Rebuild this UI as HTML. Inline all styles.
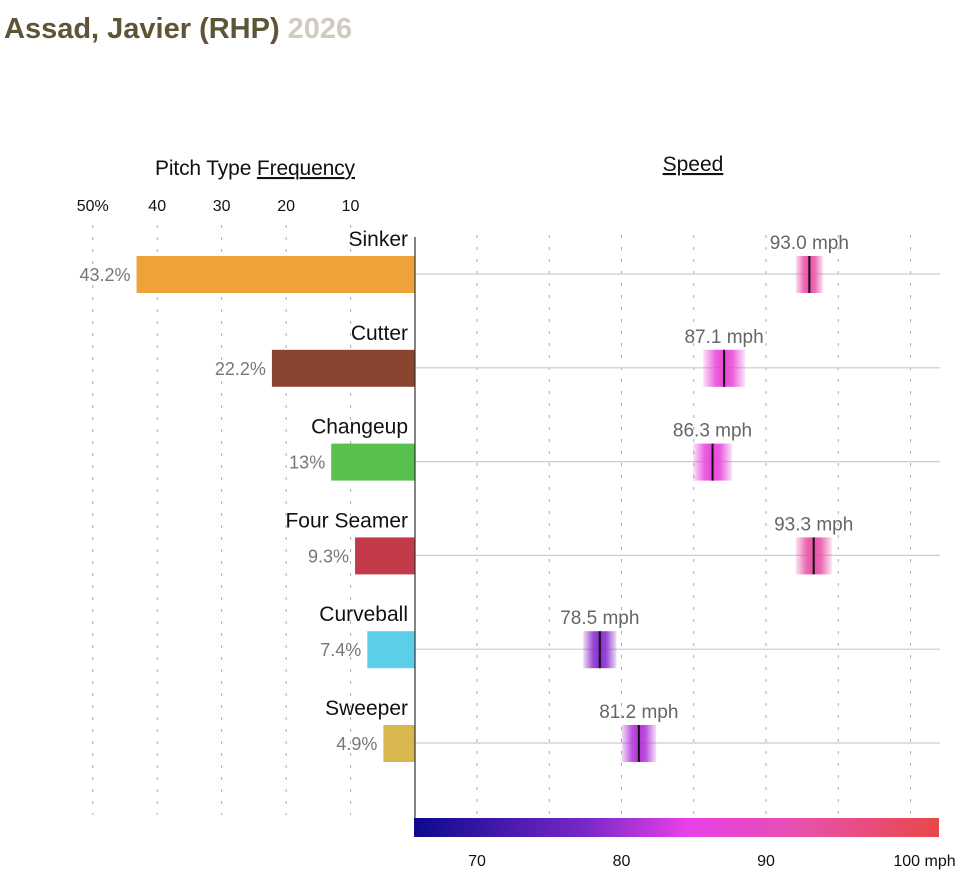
<!DOCTYPE html>
<html><head><meta charset="utf-8"><style>
body{margin:0;background:#fff;width:960px;height:883px;overflow:hidden}
svg text{font-family:"Liberation Sans Narrow","Liberation Sans",sans-serif}
</style></head><body>
<svg id="c" width="960" height="883">
<defs>
<linearGradient id="cb" x1="0" x2="1" y1="0" y2="0">
<stop offset="0" stop-color="#0c0a8c"/><stop offset="0.33" stop-color="#7a28c8"/>
<stop offset="0.52" stop-color="#e840e8"/><stop offset="0.75" stop-color="#e850a8"/>
<stop offset="1" stop-color="#e84848"/></linearGradient>
</defs>
<text x="4" y="38" font-size="29" font-weight="bold" fill="#5c5636" style="font-family:'Liberation Sans',sans-serif">Assad, Javier (RHP) <tspan fill="#cfcbbf">2026</tspan></text>
<text x="255" y="175" font-size="21" text-anchor="middle" fill="#111" textLength="200">Pitch Type <tspan text-decoration="underline">Frequency</tspan></text>
<text x="693" y="171" font-size="21" text-anchor="middle" fill="#111" text-decoration="underline">Speed</text>
<g id="g"></g>
<rect x="414" y="818" width="525" height="19" fill="url(#cb)"/>
</svg>
<script>
const pitches=["Sinker","Cutter","Changeup","Four Seamer","Curveball","Sweeper"];
const freqs=[43.2,22.2,13,9.3,7.4,4.9];
const freqLabels=["43.2%","22.2%","13%","9.3%","7.4%","4.9%"];
const speeds=[93.0,87.1,86.3,93.3,78.5,81.2];
const spreads=[1.9,2.9,2.7,2.5,2.3,2.4];
const colors=["#f0a23a","#8a4530","#58c04c","#c33a4a","#5ccfe8","#d8b650"];
const freqTicks=[50,40,30,20,10];
const speedGrid=[70,75,80,85,90,95,100];
const speedTicks=[70,80,90,100];
const NS="http://www.w3.org/2000/svg",g=document.getElementById('g');
const fx=v=>415-v*6.445;
const sx=v=>477+(v-70)*14.45;
const ry=i=>274+i*93.8;
function mk(t,a,txt,parent){const e=document.createElementNS(NS,t);for(const k in a)e.setAttribute(k,a[k]);if(txt!=null)e.textContent=txt;(parent||g).appendChild(e);return e;}
freqTicks.forEach((v,i)=>{
 let l=mk('line',{x1:fx(v),x2:fx(v),y1:225,y2:815,stroke:'#aaa','stroke-dasharray':'3,9'});
 
 
 let t=mk('text',{x:fx(v),y:211,'font-size':16,'text-anchor':'middle',fill:'#111',style:"font-family:'Liberation Sans',sans-serif"},i==0?v+'%':v);
 
 
});
speedGrid.forEach(v=>{
 let l=mk('line',{x1:sx(v),x2:sx(v),y1:235,y2:815,stroke:'#aaa','stroke-dasharray':'3,9'});
 
 
});
speedTicks.forEach(v=>{
 let t=mk('text',{x:sx(v)+(v==100?14:0),y:866,'font-size':16,'text-anchor':'middle',fill:'#111',style:"font-family:'Liberation Sans',sans-serif"},v==100?'100 mph':v);
 
 
});
function col(v){const st=[[65.7,[12,10,140]],[77.7,[122,40,200]],[84.6,[232,64,232]],[93,[232,80,168]],[102,[232,72,72]]];
 for(let i=0;i<st.length-1;i++){if(v<=st[i+1][0]){const f=(v-st[i][0])/(st[i+1][0]-st[i][0]);return 'rgb('+st[i][1].map((c,j)=>Math.round(c+(st[i+1][1][j]-c)*f)).join(',')+')';}}return 'rgb(232,72,72)';}
const defs=document.querySelector('defs');
pitches.forEach((p,i)=>{
 const y=ry(i);
 let hl=mk('line',{x1:415,x2:940,y1:y,y2:y,stroke:'#ccc','stroke-width':1.2});
 
 
 let b=mk('rect',{x:fx(freqs[i]),y:y-18,width:415-fx(freqs[i]),height:37,fill:colors[i]});
 
 
 let fl=mk('text',{x:fx(freqs[i])-6,y:y+7,'font-size':18,'text-anchor':'end',fill:'#777'},freqLabels[i]);
 
 
 let nl=mk('text',{x:408,y:y-28,'font-size':21,'text-anchor':'end',fill:'#111'},p);
 
 
 const c=col(speeds[i]),gid='m'+i;
 const lg=mk('linearGradient',{id:gid,x1:0,x2:1,y1:0,y2:0},null,defs);
 const stops=[[0,0.15],[0.3,0.85],[0.5,1],[0.7,0.85],[1,0.15]];
 stops.forEach(s=>{mk('stop',{offset:s[0],'stop-color':c,'stop-opacity':s[1]},null,lg);});
 const w=spreads[i]*14.45;
 let m=mk('rect',{x:sx(speeds[i])-w/2,y:y-18,width:w,height:37,fill:'url(#'+gid+')'});
 
 
 let ml=mk('line',{x1:sx(speeds[i]),x2:sx(speeds[i]),y1:y-18,y2:y+19,stroke:'#111','stroke-width':2});
 
 
 let st=mk('text',{x:sx(speeds[i]),y:y-25,'font-size':19,'text-anchor':'middle',fill:'#666'},speeds[i].toFixed(1)+' mph');
 
 
});
let ax=mk('line',{x1:415,x2:415,y1:237,y2:818,stroke:'#333','stroke-width':1.2});


</script>
</body></html>
